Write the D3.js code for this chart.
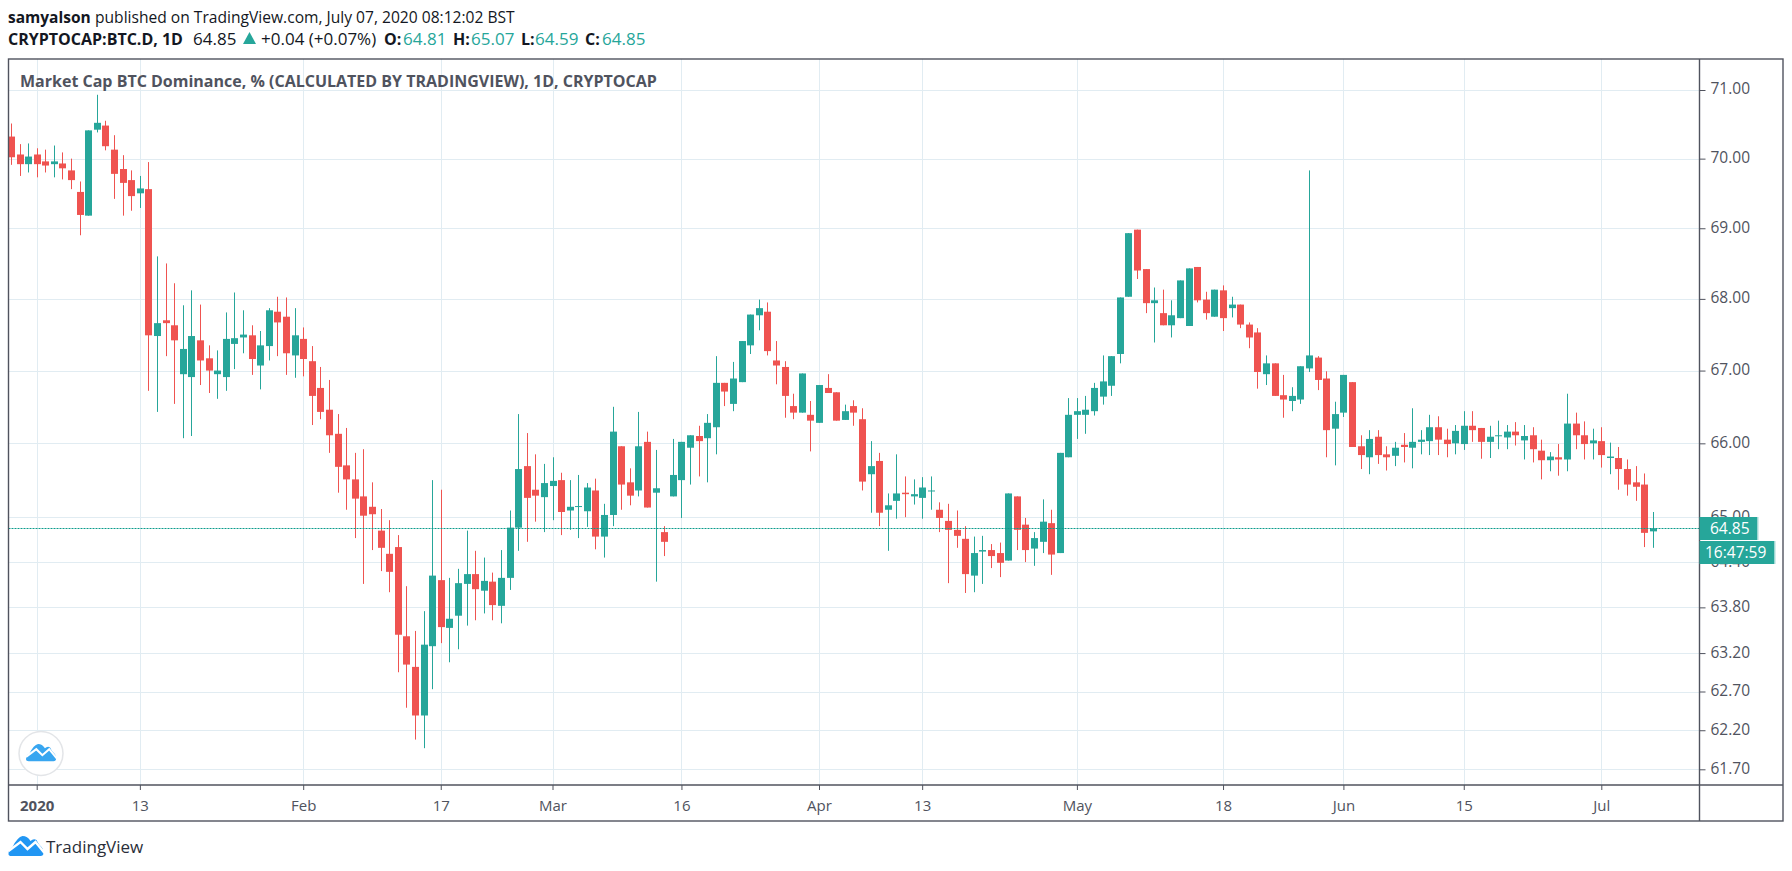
<!DOCTYPE html>
<html>
<head>
<meta charset="utf-8">
<script src="https://cdn.jsdelivr.net/npm/d3@7"></script>
<style>
body { margin: 0; background: #fff; }
text { font-family: "Open Sans", "Noto Sans", sans-serif; }
</style>
</head>
<body>
<svg id="chart" width="1792" height="871"></svg>
<script>
// daily candles from Dec 29 2019: open, high, low, close
let startDate = new Date(Date.UTC(2019, 11, 29));
let candles = [
    [70.32,70.51,69.91,70.02],[70.06,70.21,69.75,69.92],[69.92,70.22,69.80,70.03],
    // jan
    [70.06,70.15,69.73,69.92],[69.96,70.13,69.80,69.90],[69.92,70.19,69.73,69.96],[69.93,70.09,69.70,69.86],[69.83,70.00,69.56,69.69],
    [69.52,69.67,68.90,69.19],[69.18,70.41,69.18,70.41],[70.42,70.93,70.38,70.52],[70.48,70.55,70.12,70.18],[70.13,70.34,69.42,69.78],
    [69.85,70.05,69.18,69.65],[69.69,69.83,69.25,69.46],[69.50,69.75,69.29,69.57],[69.56,69.95,66.72,67.49],[67.48,68.60,66.43,67.66],
    [67.70,68.50,67.20,67.66],[67.63,68.22,66.54,67.42],[66.95,67.91,66.07,67.30],[66.91,68.12,66.10,67.48],[67.42,67.92,66.80,67.14],
    [67.17,67.35,66.69,67.00],[66.95,67.28,66.61,67.00],[66.91,67.81,66.72,67.44],[67.37,68.09,67.02,67.45],[67.46,67.84,67.24,67.50],
    [67.49,67.63,66.94,67.16],[67.07,67.55,66.74,67.35],[67.34,67.87,67.14,67.84],[67.82,68.03,67.20,67.67],[67.75,68.02,66.94,67.24],
    [67.21,67.87,66.90,67.49],
    // feb
    [67.44,67.60,66.92,67.16],[67.13,67.34,66.25,66.65],[66.76,67.05,66.33,66.43],[66.46,66.87,65.87,66.11],[66.13,66.40,65.33,65.68],
    [65.70,66.21,65.10,65.51],[65.51,65.87,64.72,65.25],[65.28,65.92,64.11,65.02],[65.14,65.47,64.56,65.04],[64.82,65.11,64.28,64.59],
    [64.51,64.96,64.00,64.27],[64.60,64.76,62.95,63.44],[63.42,64.08,62.49,63.05],[63.02,63.49,62.08,62.39],[62.39,63.75,61.97,63.31],
    [63.29,65.50,62.73,64.22],[64.16,65.37,63.33,63.54],[63.53,64.19,63.08,63.65],[63.69,64.31,63.25,64.12],[64.11,64.82,63.56,64.24],
    [64.24,64.55,63.63,64.04],[64.02,64.46,63.72,64.15],[64.14,64.26,63.63,63.83],[63.82,64.56,63.59,64.19],[64.19,65.09,64.03,64.86],
    [64.86,66.40,64.55,65.65],[65.69,66.14,64.67,65.26],[65.37,65.85,64.94,65.29],[65.27,65.72,64.80,65.46],
    // mar
    [65.42,65.81,64.96,65.49],[65.50,65.60,64.76,65.07],[65.09,65.50,64.83,65.14],[65.14,65.57,64.72,65.15],[65.08,65.46,64.87,65.40],
    [65.36,65.52,64.57,64.74],[64.74,65.18,64.46,65.03],[65.03,66.50,64.88,66.16],[65.96,65.96,65.10,65.44],[65.47,65.66,65.16,65.29],
    [65.36,66.43,65.28,65.96],[66.02,66.16,65.13,65.13],[65.33,65.91,64.14,65.39],[64.80,64.88,64.48,64.67],[65.28,66.06,65.28,65.57],
    [65.50,66.02,64.99,66.02],[65.94,66.11,65.44,66.11],[66.10,66.24,65.55,66.03],[66.07,66.40,65.47,66.28],[66.22,67.20,65.85,66.83],
    [66.83,66.83,66.51,66.71],[66.54,67.12,66.44,66.89],[66.84,67.41,66.84,67.41],[67.35,67.78,67.23,67.78],[67.77,67.99,67.56,67.87],
    [67.82,67.95,67.21,67.27],[67.14,67.41,66.81,67.07],[67.05,67.13,66.35,66.65],[66.51,66.68,66.33,66.42],[66.42,66.96,66.42,66.96],
    [66.39,66.58,65.89,66.31],
    // apr
    [66.28,66.80,66.28,66.80],[66.76,66.95,66.69,66.69],[66.70,66.70,66.31,66.31],[66.32,66.53,66.32,66.44],[66.51,66.59,66.24,66.42],
    [66.33,66.48,65.36,65.48],[65.58,66.03,65.06,65.69],[65.76,65.87,64.88,65.06],[65.10,65.32,64.55,65.16],[65.22,65.85,64.98,65.32],
    [65.33,65.55,65.00,65.31],[65.28,65.51,65.17,65.31],[65.26,65.54,64.98,65.40],[65.35,65.55,65.10,65.36],[65.10,65.20,64.80,64.99],
    [64.95,65.18,64.12,64.83],[64.83,65.09,64.59,64.75],[64.71,64.88,63.99,64.24],[64.22,64.74,64.00,64.52],[64.54,64.75,64.11,64.56],
    [64.56,64.64,64.32,64.48],[64.52,64.66,64.20,64.39],[64.42,65.32,64.42,65.32],[65.28,65.28,64.56,64.83],[64.90,64.99,64.40,64.56],
    [64.58,64.80,64.35,64.72],[64.67,65.24,64.52,64.94],[64.92,65.10,64.23,64.50],[64.52,65.87,64.52,65.87],[65.81,66.62,65.81,66.39],
    // may
    [66.39,66.62,66.06,66.44],[66.39,66.65,66.13,66.46],[66.44,66.83,66.38,66.76],[66.64,67.21,66.53,66.85],[66.79,67.20,66.65,67.20],
    [67.23,68.02,67.10,68.02],[68.03,68.93,68.03,68.93],[68.98,68.98,68.28,68.40],[68.42,68.42,67.80,67.94],[67.94,68.16,67.39,67.98],
    [67.80,68.13,67.63,67.63],[67.63,67.98,67.46,67.77],[67.73,68.26,67.73,68.26],[67.62,68.43,67.62,68.43],[68.45,68.45,67.95,67.98],
    [67.99,68.10,67.71,67.80],[67.75,68.13,67.75,68.13],[68.12,68.19,67.55,67.73],[67.87,68.03,67.74,67.92],[67.92,67.92,67.59,67.64],
    [67.64,67.67,67.31,67.46],[67.53,67.59,66.75,66.98],[66.95,67.21,66.80,67.10],[67.10,67.10,66.65,66.65],[66.66,66.94,66.35,66.60],
    [66.58,66.77,66.44,66.65],[66.60,67.06,66.54,67.06],[67.03,69.83,66.98,67.21],[67.18,67.20,66.73,66.87],[66.89,66.99,65.81,66.18],
    [66.20,66.57,65.70,66.40],
    // jun
    [66.42,66.94,66.36,66.94],[66.84,66.84,65.95,65.95],[65.96,66.11,65.65,65.84],[65.81,66.18,65.58,66.06],[66.09,66.18,65.72,65.84],
    [65.85,65.96,65.63,65.81],[65.83,66.02,65.69,65.94],[65.98,66.14,65.74,65.95],[65.94,66.48,65.66,66.02],[66.02,66.18,65.85,66.05],
    [66.03,66.39,65.84,66.22],[66.22,66.37,65.84,66.05],[66.05,66.20,65.81,65.99],[66.00,66.25,65.85,66.17],[65.99,66.44,65.91,66.24],
    [66.24,66.44,66.02,66.18],[66.21,66.21,65.79,66.02],[66.02,66.24,65.80,66.09],[66.10,66.31,65.92,66.11],[66.08,66.25,65.92,66.16],
    [66.16,66.29,65.97,66.11],[66.04,66.25,65.78,66.10],[66.11,66.22,65.74,65.92],[65.90,66.05,65.51,65.77],[65.77,65.88,65.62,65.82],
    [65.81,65.99,65.56,65.78],[65.78,66.68,65.62,66.27],[66.27,66.42,65.92,66.11],[66.11,66.30,65.78,65.99],[66.00,66.20,65.78,66.04],
    // jul
    [66.03,66.22,65.67,65.84],[65.80,66.01,65.58,65.82],[65.80,65.95,65.37,65.65],[65.65,65.78,65.29,65.44],[65.47,65.69,65.22,65.41],
    [65.44,65.59,64.60,64.79],[64.81,65.07,64.59,64.85]
];
let data = candles.map((d, i) => {
    return {date: d3.utcDay.offset(startDate, i), open: d[0], high: d[1], low: d[2], close: d[3]};
});

let lastClose = 64.85;
let colUp = '#26a69a';
let colDown = '#ef5350';
let colGrid = '#e1ecf2';
let colAxis = '#50535e';

let box = {left: 8.5, top: 59, plotRight: 1699.5, plotBottom: 785, right: 1783, bottom: 821};

let svg = d3.select('#chart');

let xScale = d3.scaleUtc()
    .domain([new Date(Date.UTC(2020, 0, 1)), new Date(Date.UTC(2020, 6, 1))])
    .range([36.7, 1601.3]);
// tradingview "log" price scale
let yScale = d3.scaleLog()
    .domain([61.7, 71])
    .range([769.3, 90]);

let priceTicks = [71, 70, 69, 68, 67, 66, 65, 64.4, 63.8, 63.2, 62.7, 62.2, 61.7];
let timeTicks = [
    ['2020', [2020, 0, 1]], ['13', [2020, 0, 13]], ['Feb', [2020, 1, 1]], ['17', [2020, 1, 17]],
    ['Mar', [2020, 2, 1]], ['16', [2020, 2, 16]], ['Apr', [2020, 3, 1]], ['13', [2020, 3, 13]],
    ['May', [2020, 4, 1]], ['18', [2020, 4, 18]], ['Jun', [2020, 5, 1]], ['15', [2020, 5, 15]],
    ['Jul', [2020, 6, 1]]
].map((d) => {
    return {label: d[0], date: new Date(Date.UTC(d[1][0], d[1][1], d[1][2]))};
});

// grid ----------------------------------------------------------------------
svg.append('g').selectAll('line').data(priceTicks).enter().append('line')
    .attr('x1', box.left).attr('x2', box.plotRight)
    .attr('y1', (d) => Math.round(yScale(d)) + 0.5).attr('y2', (d) => Math.round(yScale(d)) + 0.5)
    .attr('stroke', colGrid);
svg.append('g').selectAll('line').data(timeTicks).enter().append('line')
    .attr('x1', (d) => Math.round(xScale(d.date)) + 0.5).attr('x2', (d) => Math.round(xScale(d.date)) + 0.5)
    .attr('y1', box.top).attr('y2', box.plotBottom)
    .attr('stroke', colGrid);

svg.append('clipPath').attr('id', 'plotClip').append('rect')
    .attr('x', box.left).attr('y', box.top)
    .attr('width', box.plotRight - box.left).attr('height', box.plotBottom - box.top);

// candles ----------------------------------------------------------------------
let plot = svg.append('g').attr('clip-path', 'url(#plotClip)');
let candleColor = (d) => d.close >= d.open ? colUp : colDown;

plot.append('g').selectAll('line').data(data).enter().append('line')
    .attr('x1', (d) => Math.round(xScale(d.date)) + 0.5).attr('x2', (d) => Math.round(xScale(d.date)) + 0.5)
    .attr('y1', (d) => yScale(d.high)).attr('y2', (d) => yScale(d.low))
    .attr('stroke', candleColor)
    .attr('stroke-width', 1);
plot.append('g').selectAll('rect').data(data).enter().append('rect')
    .attr('x', (d) => Math.round(xScale(d.date)) - 3)
    .attr('width', 7)
    .attr('y', (d) => yScale(Math.max(d.open, d.close)))
    .attr('height', (d) => Math.max(1, Math.abs(yScale(d.open) - yScale(d.close))))
    .attr('fill', candleColor);

plot.append('line')
    .attr('x1', box.left).attr('x2', box.plotRight)
    .attr('y1', Math.round(yScale(lastClose)) + 0.5).attr('y2', Math.round(yScale(lastClose)) + 0.5)
    .attr('stroke', '#0c9c8c')
    .attr('stroke-dasharray', '2 1');

// axes ----------------------------------------------------------------------
let yAxis = d3.axisRight(yScale)
    .tickValues(priceTicks)
    .tickFormat(d3.format('.2f'))
    .tickSize(6)
    .tickPadding(5);
let yAxisG = svg.append('g').attr('transform', 'translate(' + box.plotRight + ',-1)').call(yAxis);
yAxisG.select('.domain').remove();
yAxisG.selectAll('line').attr('stroke', colAxis).attr('transform', 'translate(0,1)');
yAxisG.selectAll('text').attr('fill', colAxis).style('font-size', '15.5px').style('font-family', '"Open Sans"');

let xAxis = d3.axisBottom(xScale)
    .tickValues(timeTicks.map((d) => d.date))
    .tickFormat((d, i) => timeTicks[i].label)
    .tickSize(5)
    .tickPadding(10);
let xAxisG = svg.append('g').attr('transform', 'translate(0,' + box.plotBottom + ')').call(xAxis);
xAxisG.select('.domain').remove();
xAxisG.selectAll('line').attr('stroke', colAxis);
xAxisG.selectAll('text').attr('fill', colAxis).style('font-size', '15px').style('font-family', '"Open Sans"')
    .style('font-weight', (d, i) => i === 0 ? 700 : 400);

// frame
let frame = svg.append('g').attr('fill', 'none').attr('stroke', colAxis).attr('stroke-width', 1.4);
frame.append('rect')
    .attr('x', box.left).attr('y', box.top)
    .attr('width', box.right - box.left).attr('height', box.bottom - box.top);
frame.append('line').attr('x1', box.plotRight).attr('x2', box.plotRight).attr('y1', box.top).attr('y2', box.bottom);
frame.append('line').attr('x1', box.left).attr('x2', box.right).attr('y1', box.plotBottom).attr('y2', box.plotBottom);

// last price + countdown labels ----------------------------------------------
let tags = [
    {text: '64.85', y: 517, w: 58, textX: 1710},
    {text: '16:47:59', y: 541, w: 75, textX: 1705}
];
tags.forEach((t) => {
    svg.append('rect').attr('x', box.plotRight).attr('y', t.y).attr('width', t.w).attr('height', 23).attr('fill', colUp);
    svg.append('rect').attr('x', box.plotRight + t.w).attr('y', t.y).attr('width', 1).attr('height', 23).attr('fill', '#a8dbd7');
    svg.append('text').attr('x', t.textX).attr('y', t.y + 17).attr('fill', '#fff')
        .style('font-size', '15.5px').text(t.text);
});

// header ----------------------------------------------------------------------
let header = [
    {x: 8, y: 23, size: 15.5, text: 'samyalson', bold: true},
    {x: 95, y: 23, size: 15.6, text: 'published on TradingView.com, July 07, 2020 08:12:02 BST'},
    {x: 8, y: 45, size: 16, text: 'CRYPTOCAP:BTC.D, 1D', bold: true},
    {x: 193, y: 45, size: 17, text: '64.85'},
    {x: 261, y: 45, size: 17, text: '+0.04 (+0.07%)'},
    {x: 384, y: 45, size: 16, text: 'O:', bold: true},
    {x: 403, y: 45, size: 17, text: '64.81', col: colUp},
    {x: 453, y: 45, size: 16, text: 'H:', bold: true},
    {x: 471, y: 45, size: 17, text: '65.07', col: colUp},
    {x: 521, y: 45, size: 16, text: 'L:', bold: true},
    {x: 535, y: 45, size: 17, text: '64.59', col: colUp},
    {x: 585, y: 45, size: 16, text: 'C:', bold: true},
    {x: 602, y: 45, size: 17, text: '64.85', col: colUp}
];
svg.append('g').selectAll('text').data(header).enter().append('text')
    .attr('x', (d) => d.x).attr('y', (d) => d.y)
    .attr('fill', (d) => d.col || '#131722')
    .style('font-size', (d) => d.size + 'px')
    .style('font-weight', (d) => d.bold ? 700 : 400)
    .text((d) => d.text);
svg.append('path').attr('d', 'M243,44 L249.5,32 L256,44 Z').attr('fill', colUp);

svg.append('text').attr('x', 20).attr('y', 87)
    .attr('fill', colAxis)
    .style('font-size', '16px').style('font-weight', 700)
    .text('Market Cap BTC Dominance, % (CALCULATED BY TRADINGVIEW), 1D, CRYPTOCAP');

// logos ----------------------------------------------------------------------
function drawLogo(x, y, s, color) {
    let g = svg.append('g').attr('transform', 'translate(' + x + ',' + y + ') scale(' + s + ')');
    g.append('path')
        .attr('d', 'M0 18 Q0 13 4 11 Q9 1 14 0 Q19 0 22 5 Q25 2 28 4 Q30 8 31 9 Q35 12 35 17 Q35 20 32 20 L3 20 Q0 20 0 18Z')
        .attr('fill', color);
    g.append('path')
        .attr('d', 'M0 15 L12 6 L19 13 L27 6 L36 17')
        .attr('fill', 'none').attr('stroke', '#fff').attr('stroke-width', 2.4);
}
svg.append('circle').attr('cx', 41).attr('cy', 753.5).attr('r', 22)
    .attr('fill', '#fff').attr('stroke', '#e3e5e8').attr('stroke-width', 1.5);
drawLogo(26, 744, 0.86, '#38a6f0');
drawLogo(8.5, 836, 1, '#2196f3');
svg.append('text').attr('x', 46).attr('y', 853).attr('fill', '#2a2e39')
    .style('font-size', '17px').text('TradingView');
</script>
</body>
</html>
